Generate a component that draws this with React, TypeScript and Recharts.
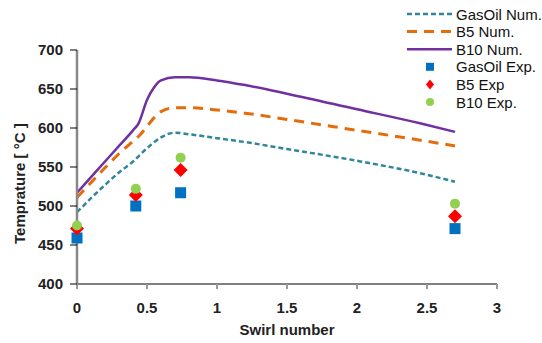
import React from "react";
import { ComposedChart, Line, Scatter, XAxis, YAxis } from "recharts";

const gasOilNum = [
  [0, 492], [0.1, 510], [0.2, 527], [0.3, 543], [0.4, 557], [0.5, 574], [0.6, 588],
  [0.7, 594], [0.8, 592], [1.0, 587], [1.2, 582], [1.5, 573], [2.0, 558], [2.5, 540], [2.7, 531],
];
const b5Num = [
  [0, 511], [0.1, 530], [0.2, 549], [0.3, 567], [0.4, 583], [0.45, 591], [0.5, 602], [0.55, 613],
  [0.6, 621], [0.7, 626], [0.8, 626], [1.0, 623], [1.2, 619], [1.5, 611], [2.0, 597], [2.5, 583], [2.7, 577],
];
const b10Num = [
  [0, 517], [0.1, 537], [0.2, 557], [0.3, 577], [0.4, 597], [0.44, 606], [0.5, 636], [0.55, 652],
  [0.6, 661], [0.7, 665], [0.8, 665], [1.0, 661], [1.2, 655], [1.5, 644], [2.0, 624], [2.45, 606], [2.7, 595],
];

const expSwirl = [0, 0.42, 0.74, 2.7];
const gasOilExp = [459, 500, 517, 471];
const b5Exp = [471, 514, 546, 487];
const b10Exp = [475, 522, 562, 503];

const xTicks = [0, 0.5, 1, 1.5, 2, 2.5, 3];
const yTicks = [400, 450, 500, 550, 600, 650, 700];

const toPts = (arr: number[][]) => arr.map(([x, y]) => ({ x, y }));
const toExp = (vals: number[]) => vals.map((y, i) => ({ x: expSwirl[i], y }));

const C_TEAL = "#31859C";
const C_ORANGE = "#E46C0A";
const C_PURPLE = "#7030A0";
const C_BLUE = "#0070C0";
const C_RED = "#FF0000";
const C_GREEN = "#92D050";

const FONT = "'Liberation Sans', Arial, sans-serif";

const Square = (p: any) => <rect x={p.cx - 5.5} y={p.cy - 5.5} width={11} height={11} fill={C_BLUE} />;
const Diamond = (p: any) => (
  <path d={`M${p.cx},${p.cy - 7} L${p.cx + 7},${p.cy} L${p.cx},${p.cy + 7} L${p.cx - 7},${p.cy} Z`} fill={C_RED} />
);
const Circle = (p: any) => <circle cx={p.cx} cy={p.cy} r={5} fill={C_GREEN} />;

const legendItems = [
  { label: "GasOil Num.", kind: "line", color: C_TEAL, dash: "5 3", w: 2.5 },
  { label: "B5 Num.", kind: "line", color: C_ORANGE, dash: "10 7", w: 3 },
  { label: "B10 Num.", kind: "line", color: C_PURPLE, dash: undefined, w: 2.5 },
  { label: "GasOil Exp.", kind: "square", color: C_BLUE },
  { label: "B5 Exp", kind: "diamond", color: C_RED },
  { label: "B10 Exp.", kind: "circle", color: C_GREEN },
];

const MyLegend = () => (
  <svg width={542} height={120} style={{ position: "absolute", left: 0, top: 0 }}>
    {legendItems.map((it, i) => {
      const y = 14 + i * 17.6;
      return (
        <g key={it.label}>
          {it.kind === "line" && (
            <line x1={407} x2={452} y1={y} y2={y} stroke={it.color} strokeWidth={it.w} strokeDasharray={it.dash} />
          )}
          {it.kind === "square" && <rect x={426} y={y - 4} width={8} height={8} fill={it.color} />}
          {it.kind === "diamond" && (
            <path d={`M430,${y - 5} L434,${y} L430,${y + 5} L426,${y} Z`} fill={it.color} />
          )}
          {it.kind === "circle" && <circle cx={430} cy={y} r={4} fill={it.color} />}
          <text x={456} y={y + 5.5} fontFamily={FONT} fontSize={15} fill="#111">
            {it.label}
          </text>
        </g>
      );
    })}
  </svg>
);

export default function App() {
  return (
    <div style={{ position: "absolute", left: 0, top: 0, width: 542, height: 343, background: "#fff" }}>
      <ComposedChart width={542} height={343} margin={{ top: 50, right: 45, left: 7, bottom: 19 }}>
        <XAxis
          type="number"
          dataKey="x"
          domain={[0, 3]}
          ticks={xTicks}
          interval={0}
          allowDuplicatedCategory={false}
          height={40}
          axisLine={{ stroke: "#000", strokeWidth: 1 }}
          tickLine={{ stroke: "#999", strokeWidth: 2 }}
          tickSize={5}
          tickMargin={13}
          tick={{ fontFamily: FONT, fontSize: 15, fontWeight: 700, fill: "#222" }}
          label={{ value: "Swirl number", position: "insideBottom", offset: -11, fontFamily: FONT, fontSize: 15, fontWeight: 700, fill: "#222" }}
        />
        <YAxis
          type="number"
          dataKey="y"
          domain={[400, 700]}
          ticks={yTicks}
          interval={0}
          width={70}
          axisLine={{ stroke: "#888", strokeWidth: 2.5 }}
          tickLine={{ stroke: "#000", strokeWidth: 1 }}
          tickSize={7}
          tickMargin={7}
          tick={{ fontFamily: FONT, fontSize: 15, fontWeight: 700, fill: "#222" }}
          label={{ value: "Temprature [ °C ]", angle: -90, position: "insideLeft", offset: 13, dy: 77, fontFamily: FONT, fontSize: 15, fontWeight: 700, fill: "#222" }}
        />
        <Line data={toPts(gasOilNum)} dataKey="y" type="monotone" stroke={C_TEAL} strokeWidth={2.5} strokeDasharray="5 3" dot={false} isAnimationActive={false} />
        <Line data={toPts(b5Num)} dataKey="y" type="monotone" stroke={C_ORANGE} strokeWidth={3} strokeDasharray="10 7" dot={false} isAnimationActive={false} />
        <Line data={toPts(b10Num)} dataKey="y" type="monotone" stroke={C_PURPLE} strokeWidth={2.5} dot={false} isAnimationActive={false} />
        <Scatter data={toExp(gasOilExp)} dataKey="y" shape={Square} isAnimationActive={false} />
        <Scatter data={toExp(b5Exp)} dataKey="y" shape={Diamond} isAnimationActive={false} />
        <Scatter data={toExp(b10Exp)} dataKey="y" shape={Circle} isAnimationActive={false} />
      </ComposedChart>
      <MyLegend />
    </div>
  );
}
